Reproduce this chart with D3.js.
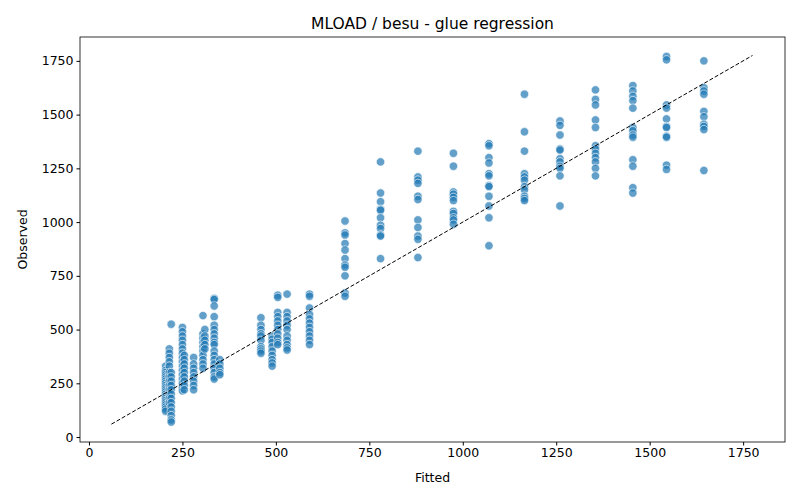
<!DOCTYPE html>
<html><head><meta charset="utf-8">
<script src="https://cdn.jsdelivr.net/npm/d3@7"></script>
<style>body{margin:0;background:#fff}text{font-family:"DejaVu Sans",sans-serif}</style>
</head><body>
<script>
// fitted value of each column and the observed values in it
const fitted = [205, 215, 220, 250, 255, 280, 305, 310, 335, 350, 460, 490, 505, 530, 590,
  685, 780, 880, 975, 1070, 1165, 1260, 1355, 1455, 1545, 1645];
const observed = [
  [330,310,300,290,280,270,260,250,240,230,220,210,200,190,180,170,160,150,140,130,120],
  [410,390,370,350,330,300,280,260,240,220,200,180,160],
  [525,300,280,260,240,220,200,180,160,140,120,100,80,70],
  [510,490,470,450,430,410,390,370,350,330,310,290,270,250,230,215],
  [380,360,340,320,300,280,260,240,220],
  [370,340,320,300,280,260,240,220],
  [565,480,460,440,420,400,380,360,340,320],
  [500,470,450,430,410],
  [645,640,610,560,520,500,480,460,440,430,400,380,360,340,320,300,280,270],
  [360,340,320,300,290],
  [555,520,500,480,470,450,420,410,400,390],
  [470,455,440,420,400,380,360,345,330],
  [660,650,580,560,540,520,500,480,460,440,430],
  [665,580,560,540,520,500,470,450,430,415,405],
  [665,655,600,570,550,530,510,490,470,450,430],
  [1005,950,940,900,870,830,800,790,750,670,655],
  [1280,1135,1095,1060,1055,1020,985,970,940,935,830],
  [1330,1210,1195,1180,1120,1105,1010,975,935,920,835],
  [1320,1260,1140,1130,1115,1100,1050,1040,1020,1010,990],
  [1365,1355,1300,1275,1225,1215,1170,1165,1120,1075,1020,890],
  [1595,1420,1330,1225,1210,1195,1165,1150,1120,1110,1100],
  [1470,1450,1405,1340,1335,1295,1280,1260,1250,1215,1075],
  [1615,1570,1545,1475,1440,1355,1340,1320,1300,1280,1250,1215],
  [1635,1610,1585,1565,1530,1440,1425,1405,1395,1290,1260,1160,1135],
  [1770,1755,1545,1530,1480,1445,1440,1400,1395,1265,1245],
  [1750,1625,1610,1595,1515,1490,1455,1445,1430,1240]
];
const ticks = [0, 250, 500, 750, 1000, 1250, 1500, 1750];
const diag = [60, 1775];

const W = 800, H = 500, m = {l: 80, r: 15, t: 37, b: 58};
const svg = d3.select("body").append("svg").attr("width", W).attr("height", H);

const x = d3.scaleLinear([-24, 1862], [m.l, W - m.r]);
const y = d3.scaleLinear([-23, 1861], [H - m.b, m.t]);

const pts = [];
fitted.forEach((f, i) => observed[i].forEach(o => pts.push([f, o])));

svg.append("g").selectAll("circle").data(pts).join("circle")
  .attr("cx", d => x(d[0])).attr("cy", d => y(d[1])).attr("r", 4.2)
  .attr("fill", "#1f77b4").attr("fill-opacity", 0.7)
  .attr("stroke", "#fff").attr("stroke-width", 0.6);

svg.append("line")
  .attr("x1", x(diag[0])).attr("y1", y(diag[0]))
  .attr("x2", x(diag[1])).attr("y2", y(diag[1]))
  .attr("stroke", "#000").attr("stroke-dasharray", "4,2");

svg.append("rect").attr("x", m.l).attr("y", m.t)
  .attr("width", W - m.l - m.r).attr("height", H - m.t - m.b)
  .attr("fill", "none").attr("stroke", "#000").attr("stroke-width", 0.8);

const xa = svg.append("g").attr("transform", `translate(0,${H - m.b})`)
  .call(d3.axisBottom(x).tickValues(ticks).tickFormat(d3.format("d")).tickSize(3.5).tickPadding(3));
const ya = svg.append("g").attr("transform", `translate(${m.l},0)`)
  .call(d3.axisLeft(y).tickValues(ticks).tickFormat(d3.format("d")).tickSize(3.5).tickPadding(3));
[xa, ya].forEach(a => {
  a.select(".domain").remove();
  a.selectAll("text").attr("font-size", 12.5).attr("fill", "#000");
});

svg.append("text").attr("x", (m.l + W - m.r) / 2).attr("y", 29)
  .attr("text-anchor", "middle").attr("font-size", 15.5).text("MLOAD / besu - glue regression");
svg.append("text").attr("x", (m.l + W - m.r) / 2).attr("y", 482)
  .attr("text-anchor", "middle").attr("font-size", 12.5).text("Fitted");
svg.append("text").attr("transform", `translate(27,${(m.t + H - m.b) / 2}) rotate(-90)`)
  .attr("text-anchor", "middle").attr("font-size", 12.5).text("Observed");
</script>
</body></html>
